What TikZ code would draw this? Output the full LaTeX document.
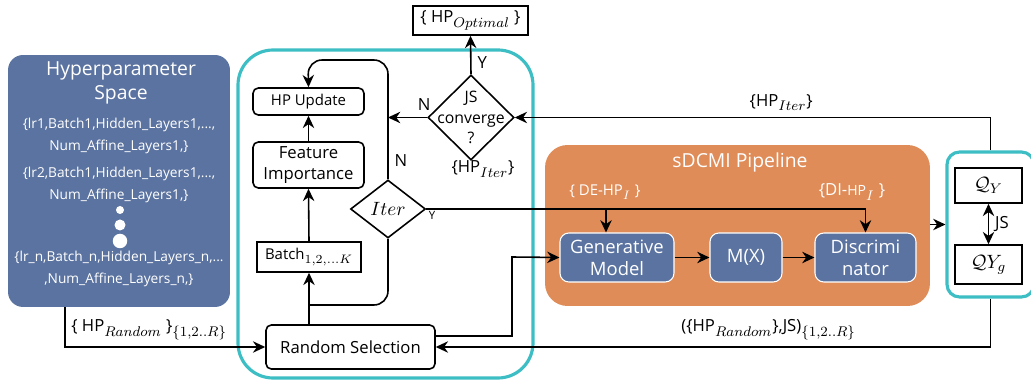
\documentclass[tikz,border=0pt]{standalone}
\usepackage{fontspec}
\setmainfont{Open Sans}
\usetikzlibrary{shapes.geometric,arrows.meta,positioning}
\definecolor{hpblue}{HTML}{5B73A0}
\definecolor{pipeorange}{HTML}{DF8C58}
\definecolor{loopcyan}{HTML}{3DBEC4}
\DeclareMathSizes{8.5}{8.5}{6.9}{5}
\DeclareMathSizes{9}{9}{7.3}{5.5}
\DeclareMathSizes{9.5}{9.5}{7.7}{6}
\DeclareMathSizes{10}{10.5}{8}{6}

\begin{document}
\begin{tikzpicture}[x=0.02cm, y=-0.02cm,
            flow/.style={draw=black, line width=0.9pt, -{Stealth[length=7pt,width=6.5pt]}},
            wire/.style={draw=black, line width=0.9pt},
            stepbox/.style={draw=black, fill=white, line width=0.9pt, rounded corners=3pt, align=center, inner sep=0pt},
            sharpbox/.style={draw=black, fill=white, line width=0.9pt, align=center, inner sep=0pt},
            decision/.style={diamond, draw=black, fill=white, line width=0.9pt, align=center, inner sep=-30pt},
            block/.style={draw=white, fill=hpblue, line width=0.6pt, rounded corners=5pt, text=white, align=center, inner sep=0pt},
            frame/.style={draw=loopcyan, line width=1.8pt, rounded corners=0.7cm},
            whitetext/.style={text=white, inner sep=0pt}
        ]
            \useasboundingbox (0,0) rectangle (1031,381);
            % frames
            \draw[frame] (238,50) rectangle (533,378);
            \node[draw=none, fill=pipeorange, rounded corners=0.45cm, minimum width=7.7cm, minimum height=3.22cm] (pipeline) at (737.5,225.5) {};
            \node[draw=loopcyan, fill=white, line width=1.8pt, rounded corners=0.25cm, minimum width=1.74cm, minimum height=2.9cm] (scorebox) at (990.5,224.5) {};
            % hyperparameter space
            \node[fill=hpblue, rounded corners=0.3cm, minimum width=4.44cm, minimum height=5.04cm] (hpspace) at (119,181) {};
            \node[whitetext, font=\fontsize{11}{13.5}\selectfont, align=center] (hptitle) at (121,83) {Hyperparameter\\Space};
            \node[whitetext, font=\fontsize{7.8}{13}\selectfont, align=center] (hpfirst) at (119,136) {\{lr1,Batch1,Hidden\_Layers1,...,\\Num\_Affine\_Layers1,\}};
            \node[whitetext, font=\fontsize{7.8}{13}\selectfont, align=center] (hpsecond) at (119,185) {\{lr2,Batch1,Hidden\_Layers1,...,\\Num\_Affine\_Layers1,\}};
            \node[whitetext, font=\fontsize{7.8}{13}\selectfont, align=center] (hplast) at (119,269) {\{lr\_n,Batch\_n,Hidden\_Layers\_n,...\\,Num\_Affine\_Layers\_n,\}};
            \fill[white] (120,210) circle (0.08cm);
            \fill[white] (120,225) circle (0.11cm);
            \fill[white] (120,241) circle (0.145cm);
            % search loop
            \node[stepbox, minimum width=2.22cm, minimum height=0.54cm, font=\fontsize{8.5}{10}\selectfont] (update) at (308.5,101.5) {HP Update};
            \node[stepbox, minimum width=2.22cm, minimum height=0.92cm, font=\fontsize{9.5}{12}\selectfont] (importance) at (308.5,165) {Feature\\Importance};
            \node[sharpbox, minimum width=2.08cm, minimum height=0.6cm, font=\fontsize{8.5}{10}\selectfont] (batch) at (309,257) {Batch$_{1,2,\ldots K}$};
            \node[stepbox, minimum width=3.38cm, minimum height=0.88cm, font=\fontsize{9.5}{12}\selectfont] (randsel) at (350.5,347) {Random Selection};
            \node[decision, minimum width=1.5cm, minimum height=1.16cm, font=\fontsize{10}{12}\selectfont] (iter) at (388,209) {$Iter$};
            \node[decision, minimum width=1.72cm, minimum height=1.7cm, font=\fontsize{9}{11.5}\selectfont] (jsconv) at (471,117.5) {JS\\converge\\?};
            \node[sharpbox, minimum width=2.3cm, minimum height=0.58cm, font=\fontsize{9.5}{12}\selectfont] (optimal) at (470.5,20.5) {\{ HP$_{Optimal}$ \}};
            \node[font=\fontsize{9.5}{11}\selectfont, inner sep=0pt] (iterset) at (483,169) {\{HP$_{Iter}$\}};
            % pipeline
            \node[whitetext, font=\fontsize{11}{13}\selectfont] (pipetitle) at (740,162) {sDCMI Pipeline};
            \node[block, minimum width=2.28cm, minimum height=0.98cm, font=\fontsize{10.5}{12.5}\selectfont] (genmodel) at (617,257.5) {Generative\\Model};
            \node[block, minimum width=1.44cm, minimum height=0.98cm, font=\fontsize{10.5}{12.5}\selectfont] (mx) at (746,257.5) {M(X)};
            \node[block, minimum width=2.02cm, minimum height=0.98cm, font=\fontsize{10.5}{12.5}\selectfont] (discrim) at (865.5,257.5) {Discrimi\\nator};
            \node[whitetext, font=\fontsize{8.5}{10}\selectfont] (dehp) at (605,192) {\{ DE-HP$_I$ \}};
            \node[whitetext, font=\fontsize{9.5}{10}\selectfont] (dihp) at (852,192) {\{DI-{\fontsize{8}{9}\selectfont HP}$_I$ \}};
            % scores
            \node[sharpbox, minimum width=1.34cm, minimum height=0.7cm, font=\fontsize{10}{12}\selectfont] (qy) at (988.5,185.5) {$\mathcal{Q}_Y$};
            \node[sharpbox, minimum width=1.34cm, minimum height=0.78cm, font=\fontsize{10}{12}\selectfont] (qyg) at (988.5,264.5) {$\mathcal{Q}Y_g$};
            % turning points
            \coordinate (looptop) at (308,60);
            \coordinate (merge) at (309,305);
            \coordinate (detap) at (606,209);
            \coordinate (feedturn) at (512,257);
            \coordinate (hpfoot) at (65,307);
            % arrows
            \draw[flow] (jsconv.north) -- node[pos=0.3, right, font=\fontsize{9.5}{11}\selectfont]{Y} (optimal.south);
            \draw[flow] (jsconv.west) -- node[pos=0.08, above, font=\fontsize{9.5}{11}\selectfont]{N} (jsconv.west -| iter.north);
            \draw[flow, rounded corners=8pt] (iter.north) |- node[pos=0.08, right, font=\fontsize{9.5}{11}\selectfont]{N} (looptop) -- (update.north);
            \draw[wire, rounded corners=8pt] (iter.south) |- (merge);
            \draw[flow] (batch.south |- randsel.north) -- (batch.south);
            \draw[flow] (batch.north) -- (importance.south);
            \draw[flow] (importance.north) -- (update.south);
            \draw[flow] (iter.east) -| node[pos=0.0, below right, inner sep=1pt, font=\fontsize{6.5}{8}\selectfont]{Y} (discrim.north);
            \draw[flow] (detap) -- (detap |- genmodel.north);
            \draw[flow] ([yshift=0.22cm]randsel.east) -| (feedturn) -- (genmodel.west);
            \draw[flow] (genmodel.east) -- (mx.west);
            \draw[flow] (mx.east) -- (discrim.west);
            \draw[flow] (scorebox.west -| pipeline.east) -- (scorebox.west);
            \draw[line width=0.9pt, {Stealth[length=7pt,width=6.5pt]}-{Stealth[length=7pt,width=6.5pt]}] (qy.south) -- node[right, font=\fontsize{9.5}{11}\selectfont]{JS} (qyg.north);
            \draw[flow] (scorebox.north) |- node[pos=0.72, above, font=\fontsize{9.5}{11}\selectfont]{\{HP$_{Iter}$\}} (jsconv.east);
            \draw[flow] (scorebox.south) |- node[pos=0.7, above, font=\fontsize{9.5}{11}\selectfont]{(\{HP$_{Random}$\},JS)$_{\{1,2..R\}}$} (randsel.east);
            \draw[flow] (hpfoot) |- node[pos=0.71, above, font=\fontsize{9.5}{11}\selectfont]{\{ HP$_{Random}$ \}$_{\{1,2..R\}}$} (randsel.west);
        \end{tikzpicture}
\end{document}
